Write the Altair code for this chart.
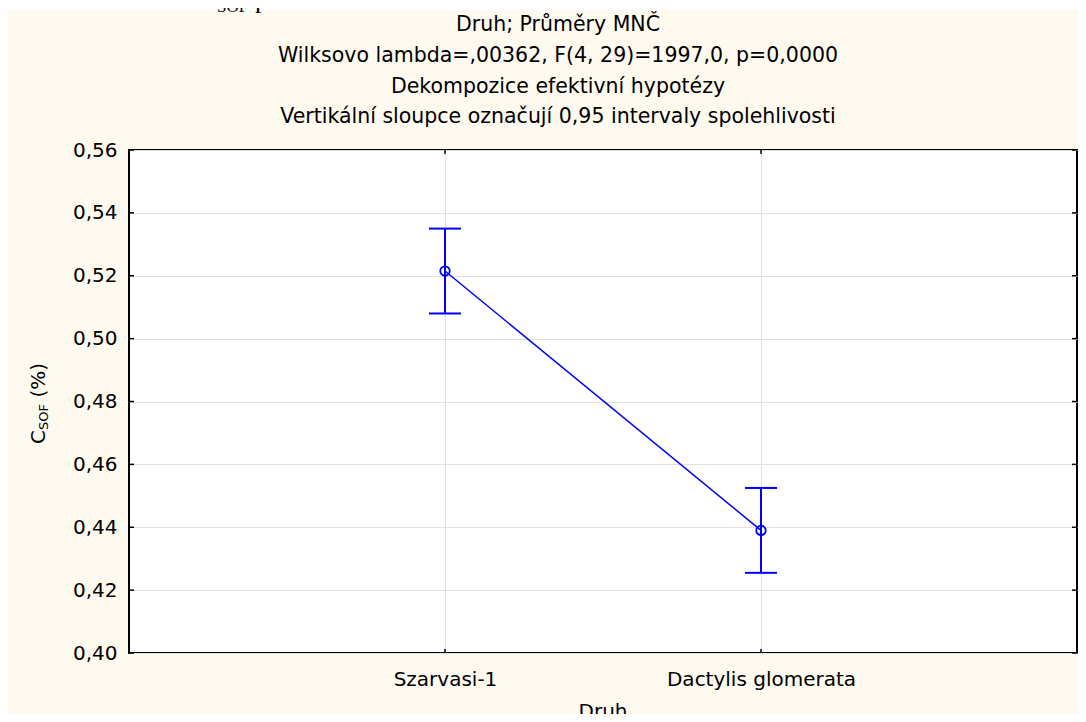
import altair as alt
import pandas as pd

# ---- data ----
druh = ["Szarvasi-1", "Dactylis glomerata"]
prumer = [0.5215, 0.4390]
horni = [0.5350, 0.4525]
dolni = [0.5080, 0.4255]
y_ticks = [0.40, 0.42, 0.44, 0.46, 0.48, 0.50, 0.52, 0.54, 0.56]

title_lines = [
    "Druh; Průměry MNČ",
    "Wilksovo lambda=,00362, F(4, 29)=1997,0, p=0,0000",
    "Dekompozice efektivní hypotézy",
    "Vertikální sloupce označují 0,95 intervaly spolehlivosti",
]
caption_parts = ["Graf č. 11: Obsah C", "SOF", "podle travního druhu."]
x_title = "Druh"
y_title_parts = ["C", "SOF", "(%)"]

W, H = 948, 503
FONT = "DejaVu Sans"
BLUE = "#0000FF"

df = pd.DataFrame({"druh": druh, "mean": prumer, "hi": horni, "lo": dolni})
ydf = pd.DataFrame({"v": y_ticks})

xs = alt.Scale(type="point", padding=1, domain=druh)
ys = alt.Scale(domain=[0.40, 0.56], nice=False, zero=False)

x_enc = alt.X(
    "druh:N",
    scale=xs,
    sort=druh,
    axis=alt.Axis(
        title=None, labelAngle=0, grid=True, gridColor="#e0e0e0", domain=False,
        ticks=False, labelPadding=16, labelFont=FONT, labelFontSize=20,
        labelColor="black", labelLimit=600,
    ),
)
y_axis = alt.Axis(
    title=None, values=y_ticks, grid=True, gridColor="#e0e0e0", domain=False,
    ticks=False, labelPadding=12, labelFont=FONT, labelFontSize=20,
    labelColor="black",
    labelExpr="replace(format(datum.value, '.2f'), '.', ',')",
)

base = alt.Chart(df)

# white page strip above the beige chart background
strip = base.mark_rect(color="white").encode(
    x=alt.value(-121), x2=alt.value(W + 1), y=alt.value(-142), y2=alt.value(-140)
)

err = base.mark_rule(color=BLUE, strokeWidth=2).encode(
    x=x_enc,
    y=alt.Y("lo:Q", scale=ys, axis=y_axis),
    y2="hi:Q",
)
cap_hi = base.mark_tick(color=BLUE, size=32, thickness=2, opacity=1).encode(
    x="druh:N", y="hi:Q"
)
cap_lo = base.mark_tick(color=BLUE, size=32, thickness=2, opacity=1).encode(
    x="druh:N", y="lo:Q"
)
line = base.mark_line(color=BLUE, strokeWidth=1.5).encode(x="druh:N", y="mean:Q")
pts = base.mark_point(
    shape="circle", size=90, strokeWidth=1.8, color=BLUE, filled=False, opacity=1
).encode(x="druh:N", y="mean:Q")

# inward ticks on the frame
tk_l = alt.Chart(ydf).mark_rule(color="black", strokeWidth=1.5).encode(
    y="v:Q", x=alt.value(0), x2=alt.value(5)
)
tk_r = alt.Chart(ydf).mark_rule(color="black", strokeWidth=1.5).encode(
    y="v:Q", x=alt.value(W - 5), x2=alt.value(W)
)
tk_b = base.mark_rule(color="black", strokeWidth=1.5).encode(
    x="druh:N", y=alt.value(H - 4), y2=alt.value(H)
)
tk_t = base.mark_rule(color="black", strokeWidth=1.5).encode(
    x="druh:N", y=alt.value(0), y2=alt.value(4)
)

# title lines
title_layers = []
title_y = [-119, -88.3, -57.3, -26.7]
for t, yy in zip(title_lines, title_y):
    title_layers.append(
        alt.Chart(pd.DataFrame({"t": [t]})).mark_text(
            font=FONT, fontSize=20.5, color="black", align="center",
            baseline="alphabetic",
        ).encode(text="t:N", x=alt.value(429), y=alt.value(yy))
    )

# y-axis title with subscript
ytitle_pos = [(-84, 294, 20), (-81, 280, 13), (-84, 247.6, 20)]
ytitle_layers = []
for part, (xx, yy, fs) in zip(y_title_parts, ytitle_pos):
    ytitle_layers.append(
        alt.Chart(pd.DataFrame({"t": [part]})).mark_text(
            font=FONT, fontSize=fs, color="black", align="left",
            baseline="alphabetic", angle=270,
        ).encode(text="t:N", x=alt.value(xx), y=alt.value(yy))
    )

xtitle = alt.Chart(pd.DataFrame({"t": [x_title]})).mark_text(
    font=FONT, fontSize=20, color="black", align="center", baseline="top"
).encode(text="t:N", x=alt.value(W / 2), y=alt.value(H + 49))

# page caption above the chart (mostly cut off in the reference)
cap_pos = [(-121, -142.5, 26), (88, -138, 17), (126, -142.5, 26)]
cap_layers = []
for part, (xx, yy, fs) in zip(caption_parts, cap_pos):
    cap_layers.append(
        alt.Chart(pd.DataFrame({"t": [part]})).mark_text(
            font="Liberation Serif", fontSize=fs, color="black", align="left",
            baseline="alphabetic",
        ).encode(text="t:N", x=alt.value(xx), y=alt.value(yy))
    )

chart = (
    alt.layer(
        strip, err, cap_hi, cap_lo, line, pts, tk_l, tk_r, tk_b, tk_t,
        *title_layers, *ytitle_layers, xtitle, *cap_layers,
    )
    .properties(
        width=W,
        height=H,
        autosize=alt.AutoSizeParams(type="none"),
        padding={"left": 121, "top": 142, "right": 1, "bottom": 61},
        background="#FFFAF0",
    )
    .configure_view(fill="white", stroke="black", strokeWidth=2)
)

chart.save("out.html", embed_options={"renderer": "svg", "actions": False})
